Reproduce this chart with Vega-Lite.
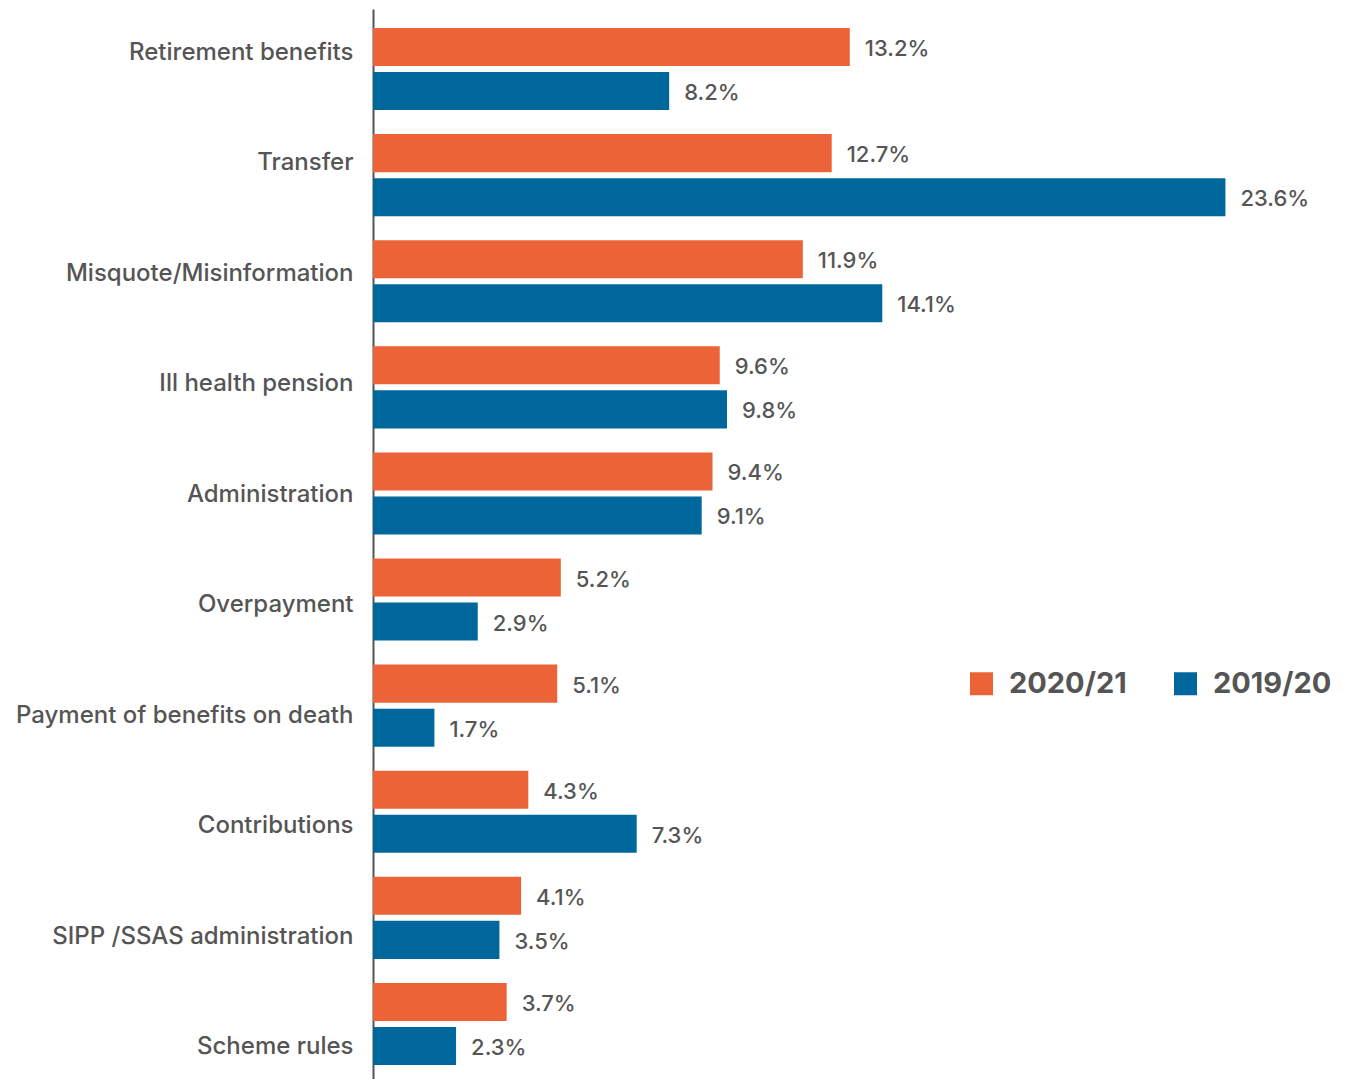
{
  "$schema": "https://vega.github.io/schema/vega-lite/v6.json",
  "padding": {"top": 9, "left": 0, "right": 0, "bottom": 0},
  "config": {"view": {"stroke": null}, "font": "Inter"},
  "data": {"values": [
    {"category": "Retirement benefits", "year": "2020/21", "value": 0.132},
    {"category": "Retirement benefits", "year": "2019/20", "value": 0.082},
    {"category": "Transfer", "year": "2020/21", "value": 0.127},
    {"category": "Transfer", "year": "2019/20", "value": 0.236},
    {"category": "Misquote/Misinformation", "year": "2020/21", "value": 0.119},
    {"category": "Misquote/Misinformation", "year": "2019/20", "value": 0.141},
    {"category": "Ill health pension", "year": "2020/21", "value": 0.096},
    {"category": "Ill health pension", "year": "2019/20", "value": 0.098},
    {"category": "Administration", "year": "2020/21", "value": 0.094},
    {"category": "Administration", "year": "2019/20", "value": 0.091},
    {"category": "Overpayment", "year": "2020/21", "value": 0.052},
    {"category": "Overpayment", "year": "2019/20", "value": 0.029},
    {"category": "Payment of benefits on death", "year": "2020/21", "value": 0.051},
    {"category": "Payment of benefits on death", "year": "2019/20", "value": 0.017},
    {"category": "Contributions", "year": "2020/21", "value": 0.043},
    {"category": "Contributions", "year": "2019/20", "value": 0.073},
    {"category": "SIPP /SSAS administration", "year": "2020/21", "value": 0.041},
    {"category": "SIPP /SSAS administration", "year": "2019/20", "value": 0.035},
    {"category": "Scheme rules", "year": "2020/21", "value": 0.037},
    {"category": "Scheme rules", "year": "2019/20", "value": 0.023}
  ]},
  "width": 903,
  "height": 1075,
  "layer": [
    {
      "layer": [
        {
          "mark": {"type": "bar"},
          "encoding": {
            "y": {"field": "category", "type": "nominal", "sort": null, "axis": null,
                  "scale": {"paddingInner": 0.2262, "paddingOuter": 0.179}},
            "yOffset": {"field": "year", "type": "nominal", "sort": ["2020/21", "2019/20"],
                        "scale": {"paddingInner": 0.136, "paddingOuter": 0}},
            "x": {"field": "value", "type": "quantitative", "scale": {"domain": [0, 0.25]}, "axis": null},
            "color": {
              "field": "year", "type": "nominal",
              "scale": {"domain": ["2020/21", "2019/20"], "range": ["#EB6337", "#00679C"]},
              "legend": {
                "orient": "none", "legendX": 594, "legendY": 660, "direction": "horizontal",
                "title": null, "symbolType": "square", "symbolSize": 529, "symbolOpacity": 1,
                "symbolStrokeWidth": 0, "labelFontSize": 29, "labelFontWeight": "bold",
                "labelFont": "Inter",
                "labelColor": "#555555", "labelOffset": 13, "columnPadding": 44, "padding": 0
              }
            }
          }
        },
        {
          "mark": {"type": "text", "align": "left", "baseline": "middle", "dx": 15, "dy": 2, "fontSize": 22, "fontWeight": 500, "font": "Inter", "color": "#555555"},
          "encoding": {
            "y": {"field": "category", "type": "nominal", "sort": null, "axis": null,
                  "scale": {"paddingInner": 0.2262, "paddingOuter": 0.179}},
            "yOffset": {"field": "year", "type": "nominal", "sort": ["2020/21", "2019/20"],
                        "scale": {"paddingInner": 0.136, "paddingOuter": 0}},
            "x": {"field": "value", "type": "quantitative", "scale": {"domain": [0, 0.25]}, "axis": null},
            "text": {"field": "value", "type": "quantitative", "format": ".1%"}
          }
        }
      ]
    },
    {
      "mark": {"type": "point", "opacity": 0},
      "encoding": {
        "y": {
          "field": "category", "type": "nominal", "sort": null,
          "scale": {"type": "point", "padding": 0.367},
          "axis": {
            "orient": "left", "title": null, "ticks": false, "grid": false,
            "labelPadding": 20, "labelFontSize": 24, "labelFontWeight": 500, "labelFont": "Inter",
            "labelColor": "#555555",
            "labelLimit": 400, "labelOffset": 3,
            "domainColor": "#555555", "domainWidth": 2,
            "minExtent": 373, "maxExtent": 373
          }
        }
      }
    }
  ],
  "resolve": {"scale": {"y": "independent"}}
}
